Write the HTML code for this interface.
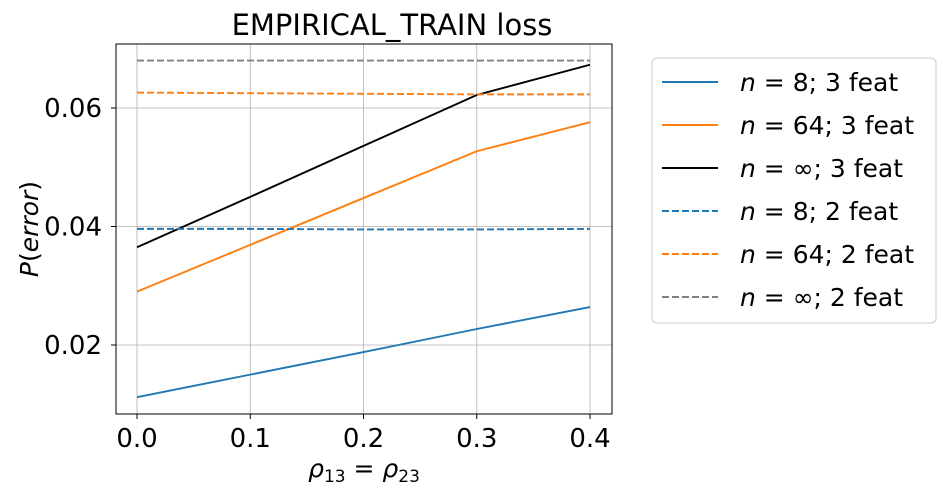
<!DOCTYPE html>
<html><head><meta charset="utf-8"><style>
body{margin:0;background:#fff;}
svg text{font-family:"DejaVu Sans","Liberation Sans",sans-serif;fill:#000;}
</style></head><body>
<svg id="chart" width="948" height="495" xmlns="http://www.w3.org/2000/svg"></svg>
<script>
const xValues=[0.0,0.1,0.2,0.3,0.4];
const n8_3feat=[0.0112,0.0150,0.0188,0.0227,0.0264];
const n64_3feat=[0.0290,0.0369,0.0448,0.0527,0.0576];
const ninf_3feat=[0.0365,0.0450,0.0536,0.0622,0.0673];
const n8_2feat=[0.0396,0.0396,0.0395,0.0395,0.0396];
const n64_2feat=[0.0626,0.0625,0.0624,0.0623,0.0623];
const ninf_2feat=[0.0680,0.0680,0.0680,0.0680,0.0680];
const xTicks=[0.0,0.1,0.2,0.3,0.4];
const xTickLabels=["0.0","0.1","0.2","0.3","0.4"];
const yTicks=[0.02,0.04,0.06];
const yTickLabels=["0.02","0.04","0.06"];
const seriesNames=["n8-3feat","n64-3feat","ninf-3feat","n8-2feat","n64-2feat","ninf-2feat"];
const seriesData=[n8_3feat,n64_3feat,ninf_3feat,n8_2feat,n64_2feat,ninf_2feat];
const legendN=["8","64","∞","8","64","∞"];
const legendF=["3","3","3","2","2","2"];

const colors=["#1f77b4","#ff7f0e","#000000","#1f77b4","#ff7f0e","#808080"];
const dashes=["","","","7,3","7,3","7,3"];
const L=116,R=612,T=44,B=414;
const xs=v=>137+(v-0)*(590-137)/0.4;
const ys=v=>345-(v-0.02)*(345-108)/0.04;
const svg=document.getElementById('chart');
const NS='http://www.w3.org/2000/svg';
function mk(tag,attrs,parent){const e=document.createElementNS(NS,tag);for(const k in attrs)e.setAttribute(k,attrs[k]);(parent||svg).appendChild(e);return e;}
xTicks.forEach((t,i)=>{
 const g=mk('line',{x1:xs(t),x2:xs(t),y1:T,y2:B,stroke:'#b0b0b0','stroke-width':0.8});
 
 
 const tk=mk('line',{x1:xs(t),x2:xs(t),y1:B,y2:B+5,stroke:'#000'});
 
 
 const tx=mk('text',{x:xs(t),y:B+33,'font-size':26,'text-anchor':'middle'});
 tx.textContent=xTickLabels[i];
 
 
});
yTicks.forEach((t,i)=>{
 const g=mk('line',{x1:L,x2:R,y1:ys(t),y2:ys(t),stroke:'#b0b0b0','stroke-width':0.8});
 
 
 const tk=mk('line',{x1:L-5,x2:L,y1:ys(t),y2:ys(t),stroke:'#000'});
 
 
 const tx=mk('text',{x:L-14,y:ys(t)+9,'font-size':26,'text-anchor':'end'});
 tx.textContent=yTickLabels[i];
 
 
});
seriesData.forEach((d,i)=>{
 const p=mk('polyline',{points:d.map((v,j)=>xs(xValues[j])+','+ys(v)).join(' '),fill:'none',stroke:colors[i],'stroke-width':1.9,'stroke-dasharray':dashes[i]});
 
 
});
const frame=mk('rect',{x:L,y:T,width:R-L,height:B-T,fill:'none',stroke:'#000','stroke-width':1});


const title=mk('text',{x:392,y:35,'font-size':29,'text-anchor':'middle'});
title.textContent='EMPIRICAL_TRAIN loss';


const xt=mk('text',{x:364,y:477,'font-size':25,'text-anchor':'middle'});
xt.innerHTML='<tspan font-style="italic">ρ</tspan><tspan font-size="17" dy="5">13</tspan><tspan dy="-5"> = </tspan><tspan font-style="italic">ρ</tspan><tspan font-size="17" dy="5">23</tspan>';


const yt=mk('text',{x:0,y:0,'font-size':25,'text-anchor':'middle',transform:'translate(38,229) rotate(-90)'});
yt.innerHTML='<tspan font-style="italic">P</tspan>(<tspan font-style="italic">error</tspan>)';


const lg=mk('rect',{x:652,y:58,width:284,height:265,rx:5,fill:'#fff',stroke:'#ccc'});


const ly=[82,125,168,211,254,297];
seriesNames.forEach((n,i)=>{
 const l=mk('line',{x1:662,x2:718,y1:ly[i],y2:ly[i],stroke:colors[i],'stroke-width':1.9,'stroke-dasharray':dashes[i]});
 
 
 const t=mk('text',{x:740,y:ly[i]+9,'font-size':25});
 t.innerHTML='<tspan font-style="italic">n</tspan> = ' + legendN[i]+'; '+legendF[i]+' feat';
 
 
});
</script>
</body></html>
